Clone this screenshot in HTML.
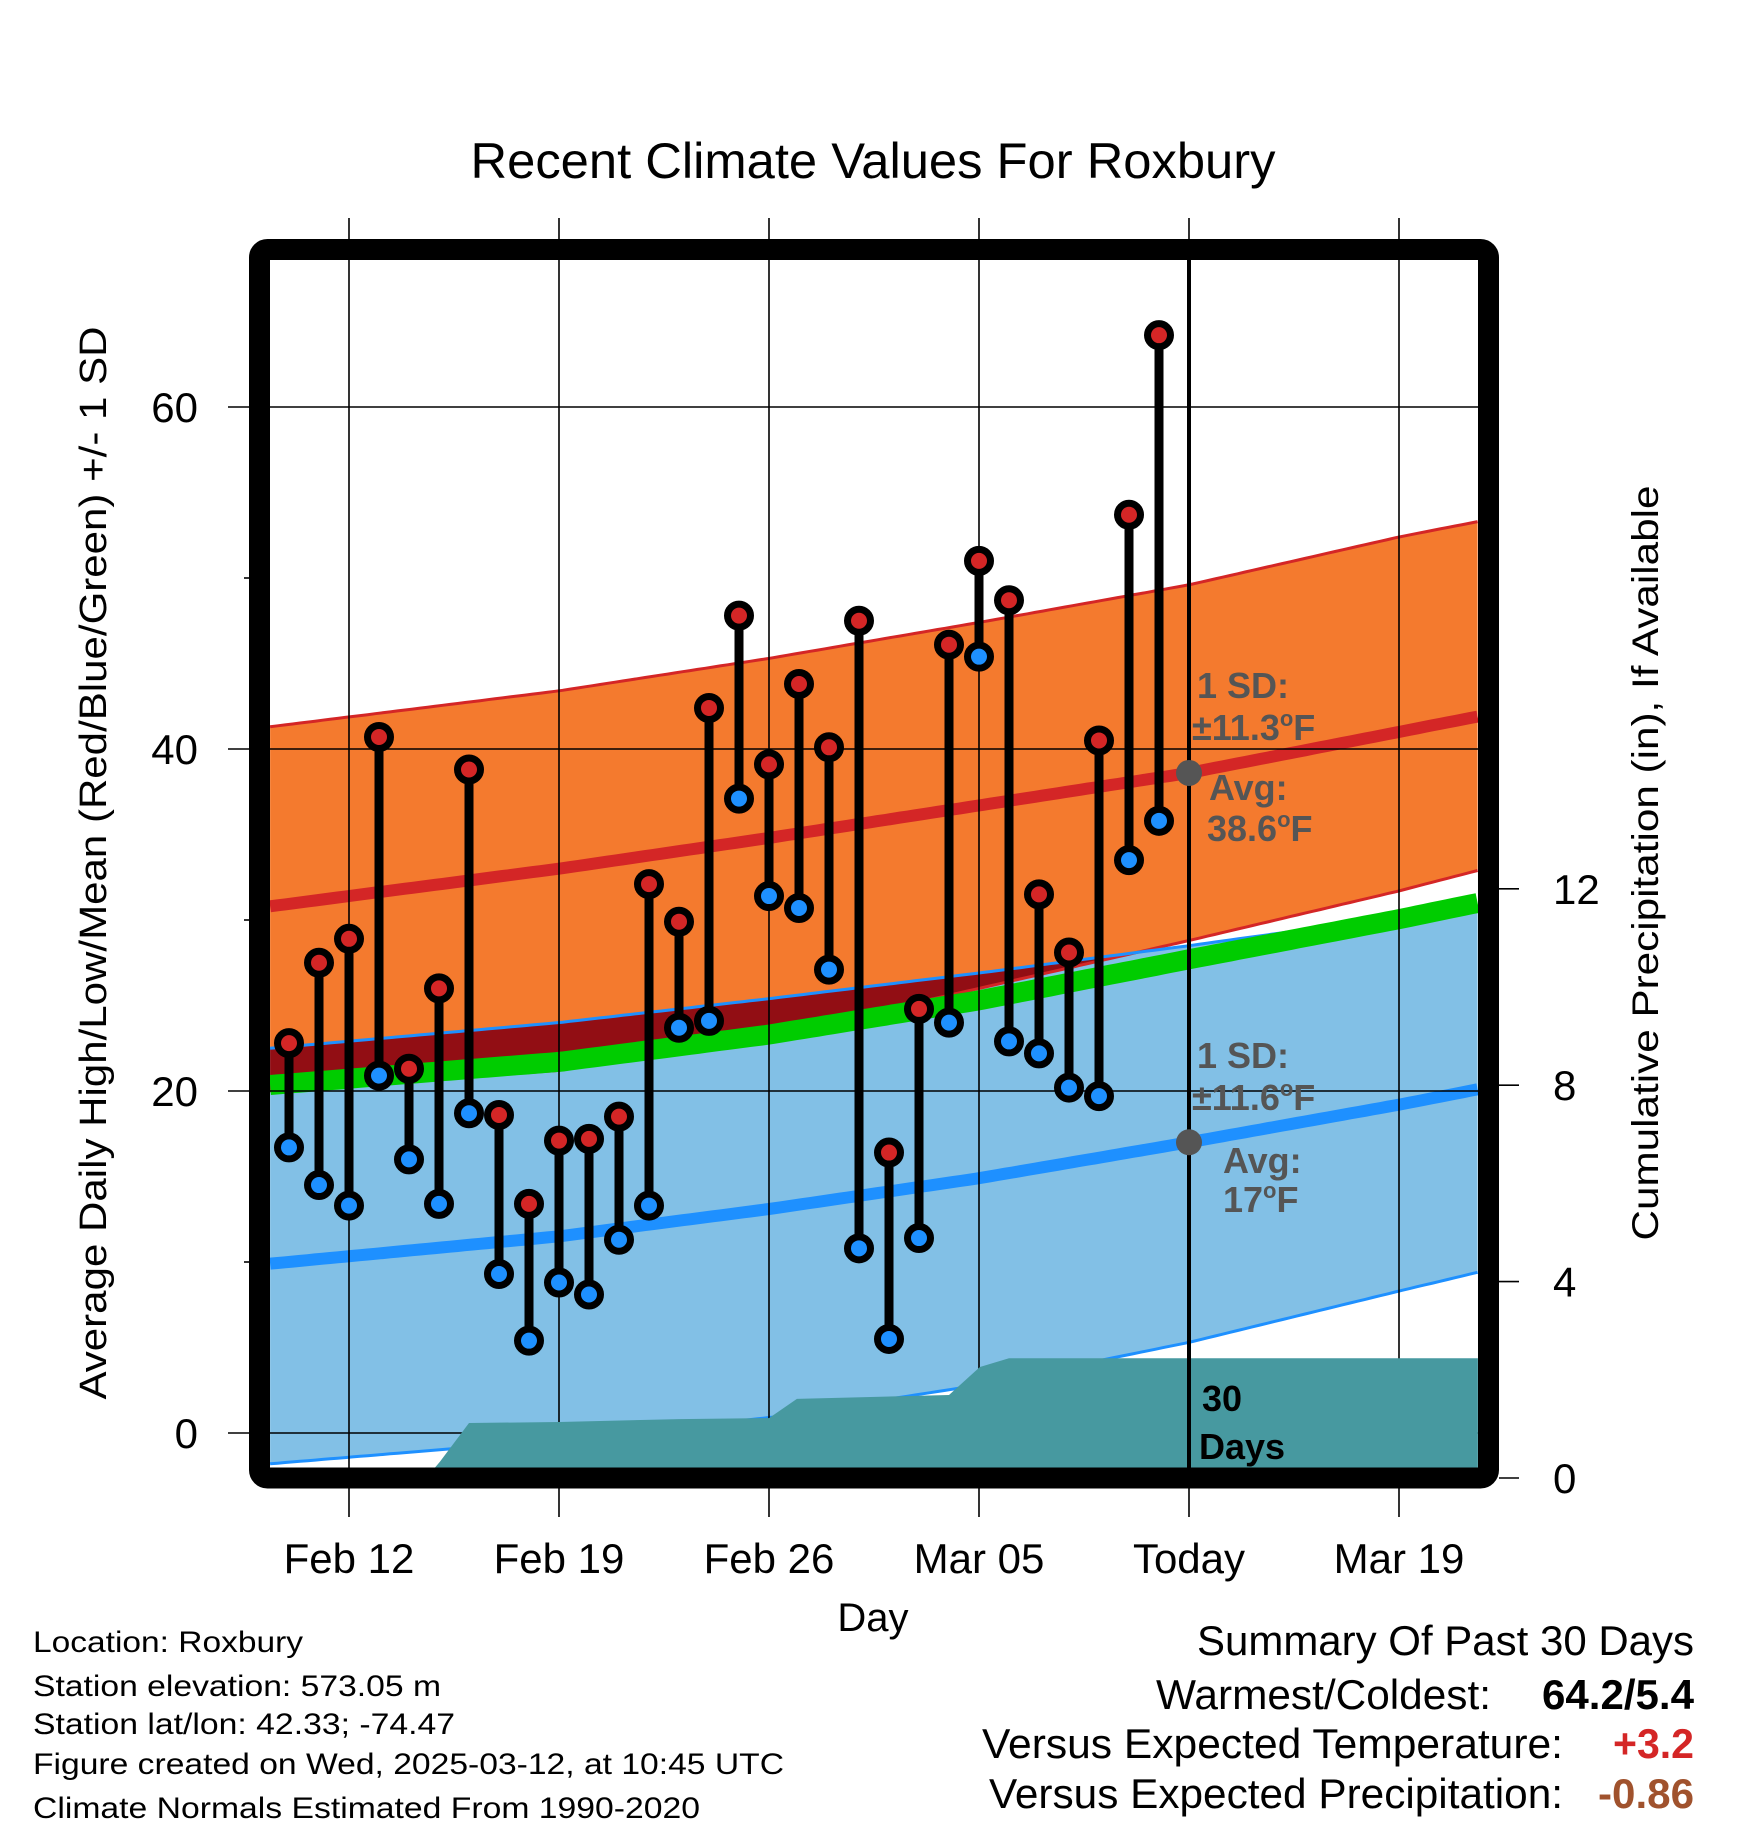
<!DOCTYPE html>
<html>
<head>
<meta charset="utf-8">
<style>
  html,body{margin:0;padding:0;background:#fff;}
  svg{display:block;font-family:"Liberation Sans",Arial,sans-serif;}
</style>
</head>
<body>
<svg id="chart" width="1748" height="1828" viewBox="0 0 1748 1828" xmlns="http://www.w3.org/2000/svg">
  <rect x="0" y="0" width="1748" height="1828" fill="#fff"/>
  <defs>
    <clipPath id="plotClip"><rect x="270" y="260" width="1208" height="1208"/></clipPath>
  </defs>
  <text x="873" y="178" font-size="50" text-anchor="middle" textLength="805" lengthAdjust="spacingAndGlyphs">Recent Climate Values For Roxbury</text>
  <g id="bands" clip-path="url(#plotClip)"></g>
  <g id="grid"></g>
  <g id="precip" clip-path="url(#plotClip)"></g>
  <g id="overlay"></g>
  <g id="marks"></g>
  <rect x="259.5" y="249.5" width="1229" height="1228.5" rx="8" fill="none" stroke="#000" stroke-width="21"/>
  <g id="axes"></g>

  <text transform="translate(106,863) rotate(-90)" font-size="38" text-anchor="middle" textLength="1073" lengthAdjust="spacingAndGlyphs">Average Daily High/Low/Mean (Red/Blue/Green) +/- 1 SD</text>
  <text transform="translate(1658,863) rotate(-90)" font-size="37" text-anchor="middle" textLength="755" lengthAdjust="spacingAndGlyphs">Cumulative Precipitation (in), If Available</text>
  <text x="873" y="1631" font-size="40" text-anchor="middle">Day</text>

  <g font-size="30">
    <text x="33" y="1652" textLength="270" lengthAdjust="spacingAndGlyphs">Location: Roxbury</text>
    <text x="33" y="1696" textLength="408" lengthAdjust="spacingAndGlyphs">Station elevation: 573.05 m</text>
    <text x="33" y="1734" textLength="422" lengthAdjust="spacingAndGlyphs">Station lat/lon: 42.33; -74.47</text>
    <text x="33" y="1774" textLength="751" lengthAdjust="spacingAndGlyphs">Figure created on Wed, 2025-03-12, at 10:45 UTC</text>
    <text x="33" y="1818" textLength="667" lengthAdjust="spacingAndGlyphs">Climate Normals Estimated From 1990-2020</text>
  </g>
  <g font-size="42">
    <text x="1694" y="1655" text-anchor="end" textLength="497" lengthAdjust="spacingAndGlyphs">Summary Of Past 30 Days</text>
    <text x="1491" y="1709" text-anchor="end" textLength="335" lengthAdjust="spacingAndGlyphs">Warmest/Coldest:</text>
    <text x="1694" y="1709" text-anchor="end" font-weight="bold" textLength="152" lengthAdjust="spacingAndGlyphs">64.2/5.4</text>
    <text x="1563" y="1758" text-anchor="end" textLength="581" lengthAdjust="spacingAndGlyphs">Versus Expected Temperature:</text>
    <text x="1694" y="1758" text-anchor="end" font-weight="bold" fill="#d42626" textLength="81" lengthAdjust="spacingAndGlyphs">+3.2</text>
    <text x="1563" y="1808" text-anchor="end" textLength="574" lengthAdjust="spacingAndGlyphs">Versus Expected Precipitation:</text>
    <text x="1694" y="1808" text-anchor="end" font-weight="bold" fill="#a0522d" textLength="96" lengthAdjust="spacingAndGlyphs">-0.86</text>
  </g>
</svg>
<script>
// ---- data ----
const dayLabels = ["Feb 12","Feb 19","Feb 26","Mar 05","Today","Mar 19"];
const dayTicks = [0, 7, 14, 21, 28, 35];
const yTicks = [0, 20, 40, 60];
const yMinor = [10, 30, 50];
const y2Ticks = [0, 4, 8, 12];
// observed days (day 0 = Feb 12)
const obsDays = [-2,-1,0,1,2,3,4,5,6,7,8,9,10,11,12,13,14,15,16,17,18,19,20,21,22,23,24,25,26,27];
const highs = [22.8,27.5,28.9,40.7,21.3,26.0,38.8,18.6,13.4,17.1,17.2,18.5,32.1,29.9,42.4,47.8,39.1,43.8,40.1,47.5,16.4,24.8,46.1,51.0,48.7,31.5,28.1,40.5,53.7,64.2];
const lows  = [16.7,14.5,13.3,20.9,16.0,13.4,18.7,9.3,5.4,8.8,8.1,11.3,13.3,23.7,24.1,37.1,31.4,30.7,27.1,10.8,5.5,11.4,24.0,45.4,22.9,22.2,20.2,19.7,33.5,35.8];
// climate normals
const normDays = [-2.63, 7, 14, 21, 28, 35, 37.63];
const highAvg  = [30.8, 33.0, 34.8, 36.7, 38.6, 41.0, 41.9];
const highUp   = [41.3, 43.4, 45.3, 47.4, 49.6, 52.4, 53.3];
const highLo   = [20.0, 21.2, 23.2, 26.0, 28.8, 31.7, 32.9];
const meanAvg  = [20.35, 21.7, 23.3, 25.3, 27.7, 30.05, 31.0];
const lowAvg   = [9.9, 11.5, 13.1, 14.9, 17.0, 19.2, 20.1];
const lowUp    = [22.5, 24.0, 25.4, 26.9, 28.5, 30.2, 30.9];
const lowLo    = [-1.8, -0.4, 0.9, 2.8, 5.3, 8.3, 9.4];
// cumulative precipitation
const precipDays = [2.57, 3.03, 4.0, 7.0, 11.0, 14.0, 14.93, 20.0, 21.03, 22.0, 37.63];
const precipVals = [0, 0.33, 1.12, 1.14, 1.2, 1.22, 1.61, 1.69, 2.26, 2.44, 2.44];
const todayDay = 28;
const todayHighAvg = 38.6;
const todayLowAvg = 17;

// ---- scales ----
const X = d => 349 + 30 * d;
const Y = v => 1433 - 17.1 * v;
const P = v => 1478 - 49.1 * v;
const NS = "http://www.w3.org/2000/svg";
function mk(tag, attrs, parent) {
  const e = document.createElementNS(NS, tag);
  for (const k in attrs) e.setAttribute(k, attrs[k]);
  parent.appendChild(e);
  return e;
}
function interp(days, vals, d) {
  if (d <= days[0]) return vals[0];
  for (let i = 1; i < days.length; i++) {
    if (d <= days[i]) {
      const t = (d - days[i-1]) / (days[i] - days[i-1]);
      return vals[i-1] + t * (vals[i] - vals[i-1]);
    }
  }
  return vals[vals.length-1];
}
const samples = [];
for (let d = normDays[0]; d <= normDays[normDays.length-1] + 0.001; d += 0.25) samples.push(d);
function linePts(arr) { return samples.map(d => X(d).toFixed(1) + "," + Y(interp(normDays, arr, d)).toFixed(1)); }
function bandPts(top, bot) {
  return linePts(top).concat(linePts(bot).reverse()).join(" ");
}

// ---- bands ----
const bands = document.getElementById("bands");
let el;
el = mk("polygon", {points: bandPts(highUp, highLo), fill: "#f47a2e"}, bands);


el = mk("polygon", {points: bandPts(lowUp, lowLo), fill: "#82c0e6"}, bands);


{
  const top = [], bot = [];
  samples.forEach(d => {
    const lu = interp(normDays, lowUp, d), hl = interp(normDays, highLo, d);
    const t = lu, b = Math.min(hl, lu);
    top.push(X(d).toFixed(1) + "," + Y(t).toFixed(1));
    bot.push(X(d).toFixed(1) + "," + Y(b).toFixed(1));
  });
  el = mk("polygon", {points: top.concat(bot.reverse()).join(" "), fill: "#920e14"}, bands);
  
  
}
el = mk("polyline", {points: linePts(highLo).join(" "), fill: "none", stroke: "#d42626", "stroke-width": 3}, bands);


el = mk("polyline", {points: linePts(lowUp).join(" "), fill: "none", stroke: "#1e90ff", "stroke-width": 3}, bands);


el = mk("polyline", {points: linePts(meanAvg).join(" "), fill: "none", stroke: "#00cc00", "stroke-width": 20}, bands);


el = mk("polyline", {points: linePts(highUp).join(" "), fill: "none", stroke: "#d42626", "stroke-width": 3}, bands);


el = mk("polyline", {points: linePts(lowLo).join(" "), fill: "none", stroke: "#1e90ff", "stroke-width": 3}, bands);


el = mk("polyline", {points: linePts(highAvg).join(" "), fill: "none", stroke: "#d42626", "stroke-width": 12}, bands);


el = mk("polyline", {points: linePts(lowAvg).join(" "), fill: "none", stroke: "#1e90ff", "stroke-width": 12}, bands);



// ---- grid ----
const grid = document.getElementById("grid");
dayTicks.forEach((d, i) => {
  const g = mk("line", {x1: X(d), x2: X(d), y1: 218, y2: 1517, stroke: "#000", "stroke-width": 1.6}, grid);
  
  
});
yTicks.forEach(v => {
  const g = mk("line", {x1: 228, x2: 1478, y1: Y(v), y2: Y(v), stroke: "#000", "stroke-width": 1.6}, grid);
  
  
});
yMinor.forEach(v => {
  const g = mk("line", {x1: 244, x2: 260, y1: Y(v), y2: Y(v), stroke: "#000", "stroke-width": 1.6}, grid);
  
  
});

// ---- precip ----
const precip = document.getElementById("precip");
{
  const pts = precipDays.map((d, i) => X(d).toFixed(1) + "," + P(precipVals[i]).toFixed(1));
  pts.push(X(precipDays[precipDays.length-1]) + "," + P(0));
  pts.push(X(precipDays[0]) + "," + P(0));
  el = mk("polygon", {points: pts.join(" "), fill: "#4799a0"}, precip);
  
  
}

// ---- overlay: today line & annotations ----
const ov = document.getElementById("overlay");
el = mk("line", {x1: X(todayDay), x2: X(todayDay), y1: 255, y2: 1470, stroke: "#000", "stroke-width": 4}, ov);


el = mk("circle", {cx: X(todayDay), cy: Y(todayHighAvg), r: 13, fill: "#555"}, ov);


el = mk("circle", {cx: X(todayDay), cy: Y(todayLowAvg), r: 13, fill: "#555"}, ov);


function ann(txt, x, y, w, name, deg, color) {
  const t = mk("text", {x: x, y: y, "font-size": 36, "font-weight": "bold", fill: color || "#555"}, ov);
  
  
  if (deg) {
    const parts = txt.split("°");
    t.appendChild(document.createTextNode(parts[0]));
    const s = mk("tspan", {"font-size": 22, dy: -14}, t);
    s.textContent = "o";
    const r = mk("tspan", {dy: 14}, t);
    r.textContent = parts[1];
  } else {
    t.textContent = txt;
  }
  return t;
}
ann("1 SD:", 1197, 698, 0, "high-sd-label");
ann("±11.3°F", 1192, 740, 0, "high-sd-value", true);
ann("Avg:", 1209, 800, 0, "high-avg-label");
ann("38.6°F", 1207, 841, 0, "high-avg-value", true);
ann("1 SD:", 1197, 1068, 0, "low-sd-label");
ann("±11.6°F", 1192, 1110, 0, "low-sd-value", true);
ann("Avg:", 1223, 1173, 0, "low-avg-label");
ann("17°F", 1223, 1212, 0, "low-avg-value", true);
ann("30", 1202, 1411, 0, "window-days-number", false, "#000");
ann("Days", 1199, 1459, 0, "window-days-label", false, "#000");

// ---- daily marks ----
const marks = document.getElementById("marks");
obsDays.forEach((d, i) => {
  const x = X(d);
  const s = mk("line", {x1: x, x2: x, y1: Y(highs[i]), y2: Y(lows[i]), stroke: "#000", "stroke-width": 9}, marks);
  
  
  const h = mk("circle", {cx: x, cy: Y(highs[i]), r: 11.5, fill: "#d42626", stroke: "#000", "stroke-width": 7}, marks);
  
  
  const l = mk("circle", {cx: x, cy: Y(lows[i]), r: 11.5, fill: "#1e90ff", stroke: "#000", "stroke-width": 7}, marks);
  
  
});

// ---- axes labels ----
const axes = document.getElementById("axes");
dayTicks.forEach((d, i) => {
  const t = mk("text", {x: X(d), y: 1573, "font-size": 42, "text-anchor": "middle"}, axes);
  
  
  t.textContent = dayLabels[i];
});
yTicks.forEach(v => {
  const t = mk("text", {x: 198, y: Y(v) + 15, "font-size": 42, "text-anchor": "end"}, axes);
  
  
  t.textContent = v;
});
y2Ticks.forEach(v => {
  const k = mk("line", {x1: 1499, x2: 1519, y1: P(v), y2: P(v), stroke: "#000", "stroke-width": 1.6}, axes);
  
  
  const t = mk("text", {x: 1553, y: P(v) + 15, "font-size": 42}, axes);
  
  
  t.textContent = v;
});
</script>
</body>
</html>
